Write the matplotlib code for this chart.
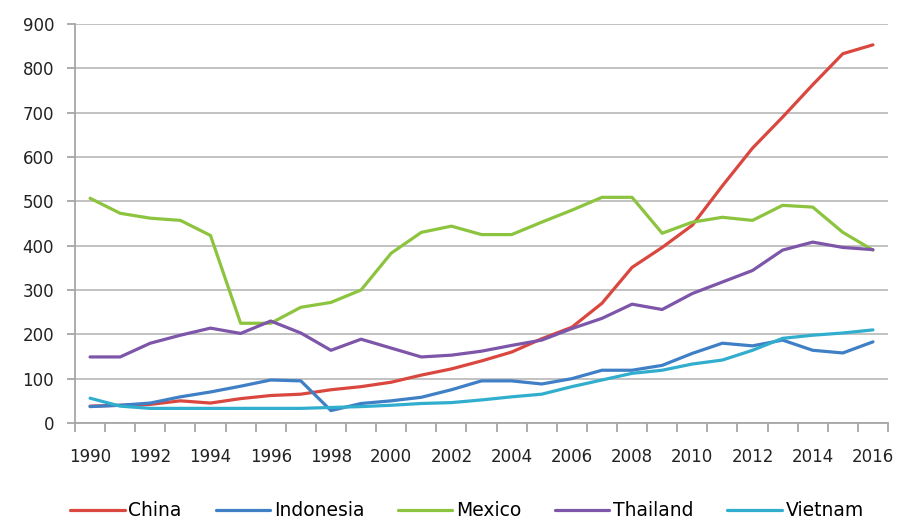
import matplotlib.pyplot as plt
from matplotlib.ticker import MultipleLocator, FixedLocator

years = list(range(1990, 2017))

china = [38, 40, 42, 50, 45, 55, 62, 65, 75, 82, 92, 108, 122, 140, 160, 190,
         216, 270, 351, 396, 446, 535, 620, 690, 763, 833, 853]
indonesia = [37, 40, 45, 59, 70, 83, 97, 95, 28, 44, 50, 58, 75, 95, 95, 88,
             100, 119, 119, 130, 157, 180, 174, 187, 164, 158, 183]
mexico = [507, 473, 462, 457, 423, 225, 225, 261, 272, 300, 383, 430, 444, 425,
          425, 453, 480, 509, 509, 428, 453, 464, 457, 491, 487, 430, 390]
thailand = [149, 149, 180, 198, 214, 202, 230, 203, 164, 189, 169, 149, 153, 162,
            175, 187, 213, 236, 268, 256, 292, 318, 344, 390, 408, 396, 391]
vietnam = [56, 38, 33, 33, 33, 33, 33, 33, 35, 37, 40, 44, 46, 52, 59, 65,
           82, 97, 112, 119, 133, 142, 164, 191, 198, 203, 210]

series = [
    ("China", china, "#D9473F"),
    ("Indonesia", indonesia, "#3F7FC6"),
    ("Mexico", mexico, "#8CC43F"),
    ("Thailand", thailand, "#7D55A9"),
    ("Vietnam", vietnam, "#31AECD"),
]

fig = plt.figure(figsize=(9.07, 5.22), dpi=100)
ax = fig.add_axes([75 / 907, 99 / 522, 813 / 907, 399 / 522])

for name, vals, col in series:
    ax.plot(years, vals, color=col, lw=2.3, label=name, solid_capstyle="round")

ax.set_xlim(1989.5, 2016.5)
ax.set_ylim(0, 900)
ax.yaxis.set_major_locator(MultipleLocator(100))
ax.xaxis.set_major_locator(FixedLocator(years[::2]))
# category boundaries get the small tick marks
ax.xaxis.set_minor_locator(FixedLocator([y - 0.5 for y in years] + [2016.5]))

grid_col = "#A6A6A6"
ax.grid(axis="y", color="#BDBDBD", lw=1.3)
ax.set_axisbelow(True)
for s in ["top", "right"]:
    ax.spines[s].set_visible(False)
for s in ["left", "bottom"]:
    ax.spines[s].set_color(grid_col)
    ax.spines[s].set_linewidth(1.3)

ax.tick_params(axis="x", which="major", length=0, pad=18, labelsize=12,
               colors="#222222")
ax.tick_params(axis="x", which="minor", length=6.5, width=1.3, color=grid_col)
ax.tick_params(axis="y", length=6, width=1.3, color=grid_col, pad=9,
               labelsize=12, colors="#222222")

fig.legend(loc="center", bbox_to_anchor=(0.515, 11 / 522), ncol=5,
           frameon=False, fontsize=13.5, handlelength=2.9, handletextpad=0.2,
           columnspacing=1.8, borderaxespad=0, borderpad=0)

fig.savefig("out.png", dpi=100)
